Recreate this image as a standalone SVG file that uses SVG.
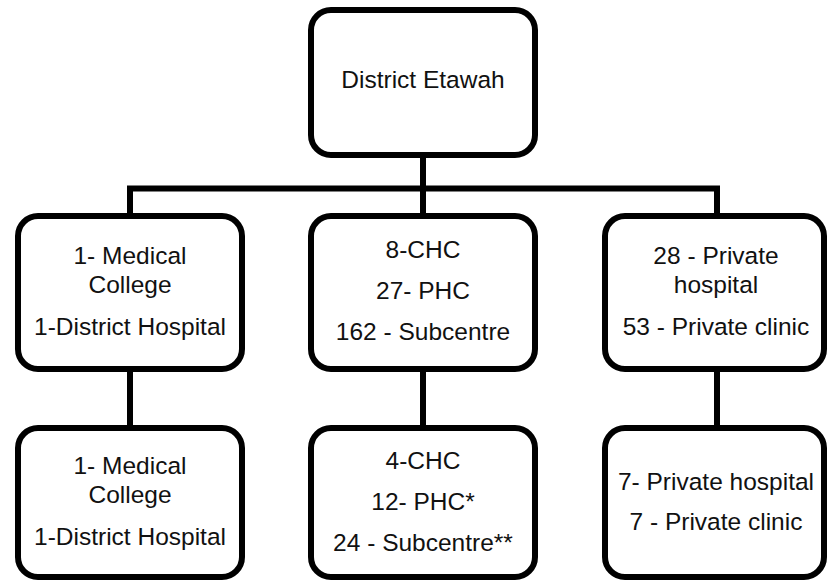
<svg xmlns="http://www.w3.org/2000/svg" width="828" height="581" viewBox="0 0 828 581">
<style>
.box{fill:#fff;stroke:#000;stroke-width:6}
.ln{fill:none;stroke:#000;stroke-width:6;stroke-linecap:butt;stroke-linejoin:miter}
text{font-family:"Liberation Sans",Arial,sans-serif;font-size:24.5px;fill:#111;text-anchor:middle}
</style>
<rect width="828" height="581" fill="#fff"/>
<g id="connectors">
<path class="ln" d="M423,155 V188.5"/>
<path class="ln" d="M130,216 V188.5 H717 V216"/>
<path class="ln" d="M423,188.5 V216"/>
<path class="ln" d="M130,369 V428"/>
<path class="ln" d="M423,369 V428"/>
<path class="ln" d="M717,369 V428"/>
</g>
<g id="root">
<rect class="box" x="311" y="10" width="224" height="145" rx="20"/>
<text x="423" y="88">District Etawah</text>
</g>
<g id="n1">
<rect class="box" x="18" y="216" width="224" height="153" rx="20"/>
<text x="130" y="264">1- Medical</text>
<text x="130" y="293">College</text>
<text x="130" y="335">1-District Hospital</text>
</g>
<g id="n2">
<rect class="box" x="311" y="216" width="224" height="153" rx="20"/>
<text x="423" y="258">8-CHC</text>
<text x="423" y="299">27- PHC</text>
<text x="423" y="340">162 - Subcentre</text>
</g>
<g id="n3">
<rect class="box" x="605" y="216" width="219" height="153" rx="20"/>
<text x="716" y="264">28 - Private</text>
<text x="716" y="293">hospital</text>
<text x="716" y="335">53 - Private clinic</text>
</g>
<g id="n4">
<rect class="box" x="18" y="428" width="224" height="149" rx="20"/>
<text x="130" y="474">1- Medical</text>
<text x="130" y="503">College</text>
<text x="130" y="545">1-District Hospital</text>
</g>
<g id="n5">
<rect class="box" x="311" y="428" width="224" height="149" rx="20"/>
<text x="423" y="469">4-CHC</text>
<text x="423" y="510">12- PHC*</text>
<text x="423" y="551">24 - Subcentre**</text>
</g>
<g id="n6">
<rect class="box" x="605" y="428" width="219" height="149" rx="20"/>
<text x="716" y="490">7- Private hospital</text>
<text x="716" y="530">7 - Private clinic</text>
</g>
</svg>
